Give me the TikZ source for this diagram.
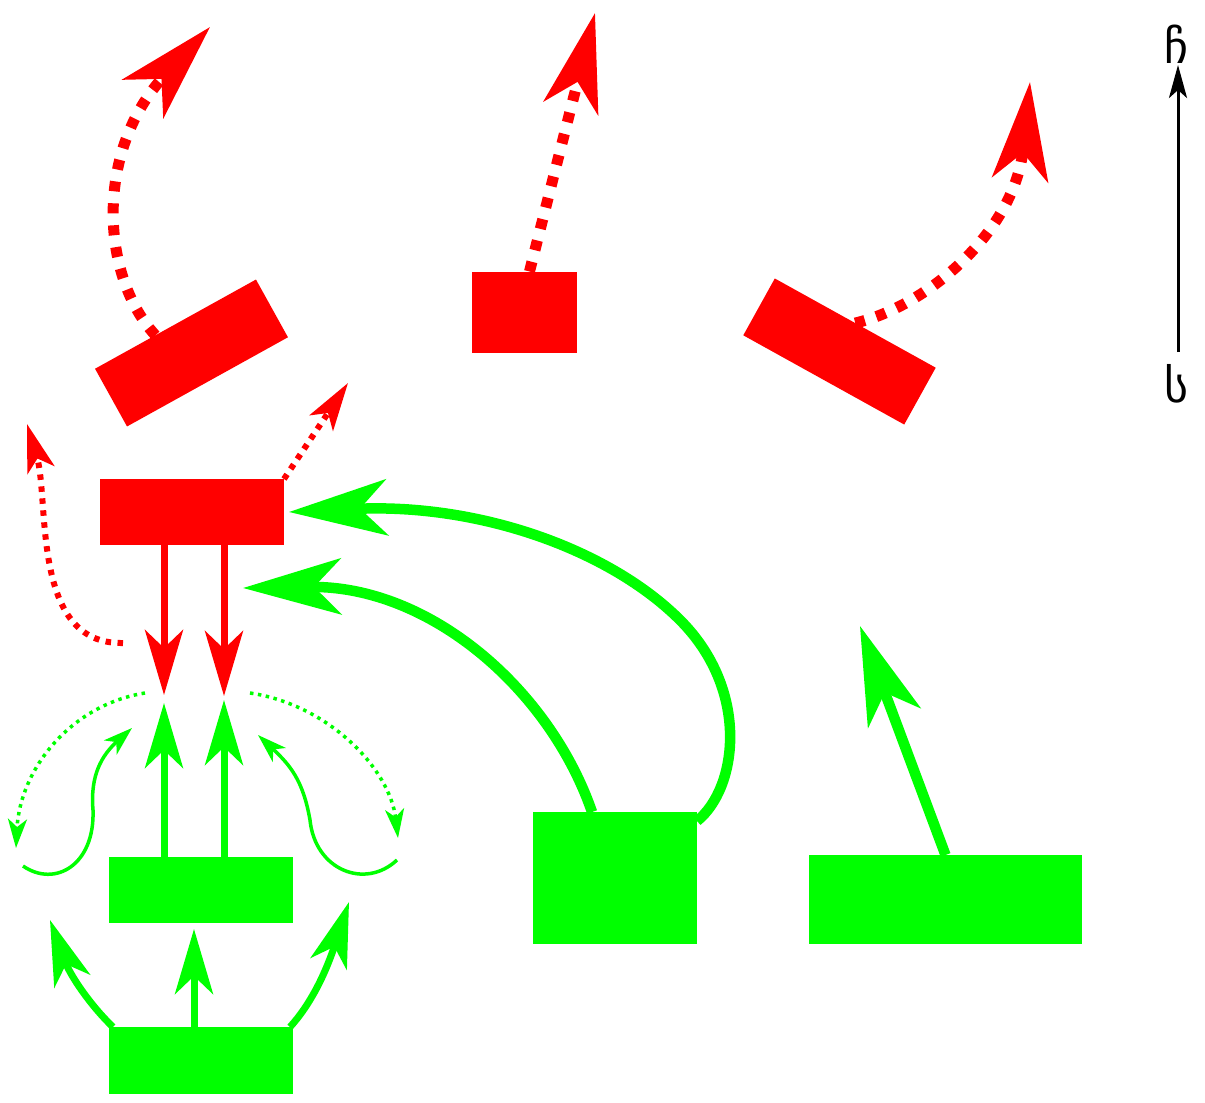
\documentclass[tikz,border=0pt]{standalone}
\usepackage{fontspec}
\newfontfamily\geofont{DejaVu Sans}
\usetikzlibrary{arrows.meta,calc}
\definecolor{myred}{RGB}{255,0,0}
\definecolor{mygreen}{RGB}{0,255,0}
\begin{document}
\begin{tikzpicture}[x=1pt,y=-1pt,
  redbox/.style={fill=myred, draw=none, inner sep=0pt, outer sep=0pt},
  greenbox/.style={fill=mygreen, draw=none, inner sep=0pt, outer sep=0pt},
  bigtip/.style={-{Stealth[length=98pt,width=56pt,inset=27pt]}},
  medtip/.style={-{Stealth[length=65pt,width=38pt,inset=18pt]}},
  smalltip/.style={-{Stealth[length=48pt,width=28pt,inset=12pt]}},
  tinytip/.style={-{Stealth[length=29pt,width=19pt,inset=8pt]}},
  axistip/.style={-{Stealth[length=33pt,width=18pt,inset=8pt]}},
  reddots/.style={draw=myred, line width=11pt, dash pattern=on 10pt off 12pt, bigtip},
  smallreddots/.style={draw=myred, line width=6pt, dash pattern=on 5.5pt off 6.5pt, smalltip},
  redarrow/.style={draw=myred, line width=7pt, medtip},
  greenarrow/.style={draw=mygreen, line width=7pt, medtip},
  greenbig/.style={draw=mygreen, line width=10.5pt, bigtip},
  greendots/.style={draw=mygreen, line width=3.5pt, dash pattern=on 3.5pt off 4.5pt, tinytip},
  greenthin/.style={draw=mygreen, line width=3.5pt, tinytip},
  axisline/.style={draw=black, line width=3pt, axistip},
  lab/.style={font=\geofont\fontsize{46pt}{52pt}\selectfont, inner sep=0pt}
]
\useasboundingbox (0,0) rectangle (1205,1103);

% red boxes
\node[redbox, minimum width=184pt, minimum height=66pt, rotate=29] (r1) at (191.5,353) {};
\node[redbox, minimum width=105pt, minimum height=81pt] (r2) at (524.5,312) {};
\node[redbox, minimum width=184pt, minimum height=65pt, rotate=-29] (r3) at (839.5,351.5) {};
\node[redbox, minimum width=184pt, minimum height=66pt] (r4) at (192,512) {};

% green boxes
\node[greenbox, minimum width=184pt, minimum height=66pt] (g1) at (201,890) {};
\node[greenbox, minimum width=184pt, minimum height=67pt] (g2) at (201,1060.5) {};
\node[greenbox, minimum width=164pt, minimum height=132pt] (g3) at (615,878) {};
\node[greenbox, minimum width=273pt, minimum height=89pt] (g4) at (945.5,899.5) {};

% free ends
\coordinate (t1) at (210,27);
\coordinate (t2) at (595,13);
\coordinate (t3) at (1030,82);
\coordinate (t4) at (348,383);
\coordinate (s5) at (123,643);
\coordinate (t5) at (27,424);
\coordinate (m1) at (164,695);
\coordinate (m2) at (224,696);
\coordinate (m3) at (164,703);
\coordinate (m4) at (224,700);
\coordinate (d1) at (145,693);
\coordinate (d2) at (16,848);
\coordinate (d3) at (250,693);
\coordinate (d4) at (398,838);
\coordinate (w1) at (23,866);
\coordinate (w2) at (132,728);
\coordinate (w3) at (397,860);
\coordinate (w4) at (258,735);
\coordinate (b1) at (194,929);
\coordinate (b2) at (50,920);
\coordinate (b3) at (349,902);
\coordinate (l1) at (243,588);
\coordinate (l2) at (860,626);
\coordinate (a1) at (1178,352);
\coordinate (a2) at (1178,65);

% red dotted arrows
\draw[reddots] ($(r1.north)!0.25!(r1.north west)$) .. controls (100,275) and (95,150) .. (t1);
\draw[reddots] ([xshift=5pt]r2.north) -- (t2);
\draw[reddots] (r3.north) .. controls (930,305) and (1015,230) .. (t3);
\draw[smallreddots] (r4.north east) -- (t4);
\draw[smallreddots] (s5) .. controls (30,645) and (50,500) .. (t5);

% red down arrows
\draw[redarrow] ([xshift=-28pt]r4.south) -- (m1);
\draw[redarrow] ([xshift=32pt]r4.south) -- (m2);

% green up arrows
\draw[greenarrow] ([xshift=-37pt]g1.north) -- (m3);
\draw[greenarrow] ([xshift=23pt]g1.north) -- (m4);

% green dotted arcs
\draw[greendots] (d1) .. controls (70,705) and (20,770) .. (d2);
\draw[greendots] (d3) .. controls (330,705) and (390,770) .. (d4);

% green wavy
\draw[greenthin] (w1) .. controls (55,888) and (95,865) .. (93,810) .. controls (90,775) and (102,755) .. (w2);
\draw[greenthin] (w3) .. controls (365,890) and (315,870) .. (310,820) .. controls (303,780) and (290,765) .. (w4);

% bottom green arrows
\draw[greenarrow] ([xshift=-7pt]g2.north) -- (b1);
\draw[greenarrow] ([xshift=4pt]g2.north west) .. controls (90,1005) and (70,975) .. (b2);
\draw[greenarrow] ([xshift=-3pt]g2.north east) .. controls (310,1005) and (325,975) .. (b3);

% big green arrows
\draw[greenbig] ([yshift=-9pt]g3.north east) .. controls (738,788) and (750,690) .. (680,620) .. controls (610,550) and (480,503) .. ([xshift=5pt]r4.east);
\draw[greenbig] ([xshift=-23pt]g3.north) .. controls (550,690) and (430,585) .. (l1);
\draw[greenbig] (g4.north) -- (l2);

% axis
\draw[axisline] (a1) -- (a2);
\node[lab] (lab1) at (1177,44) {ჩ};
\node[lab] (lab2) at (1177,384) {ს};
\end{tikzpicture}
\end{document}
